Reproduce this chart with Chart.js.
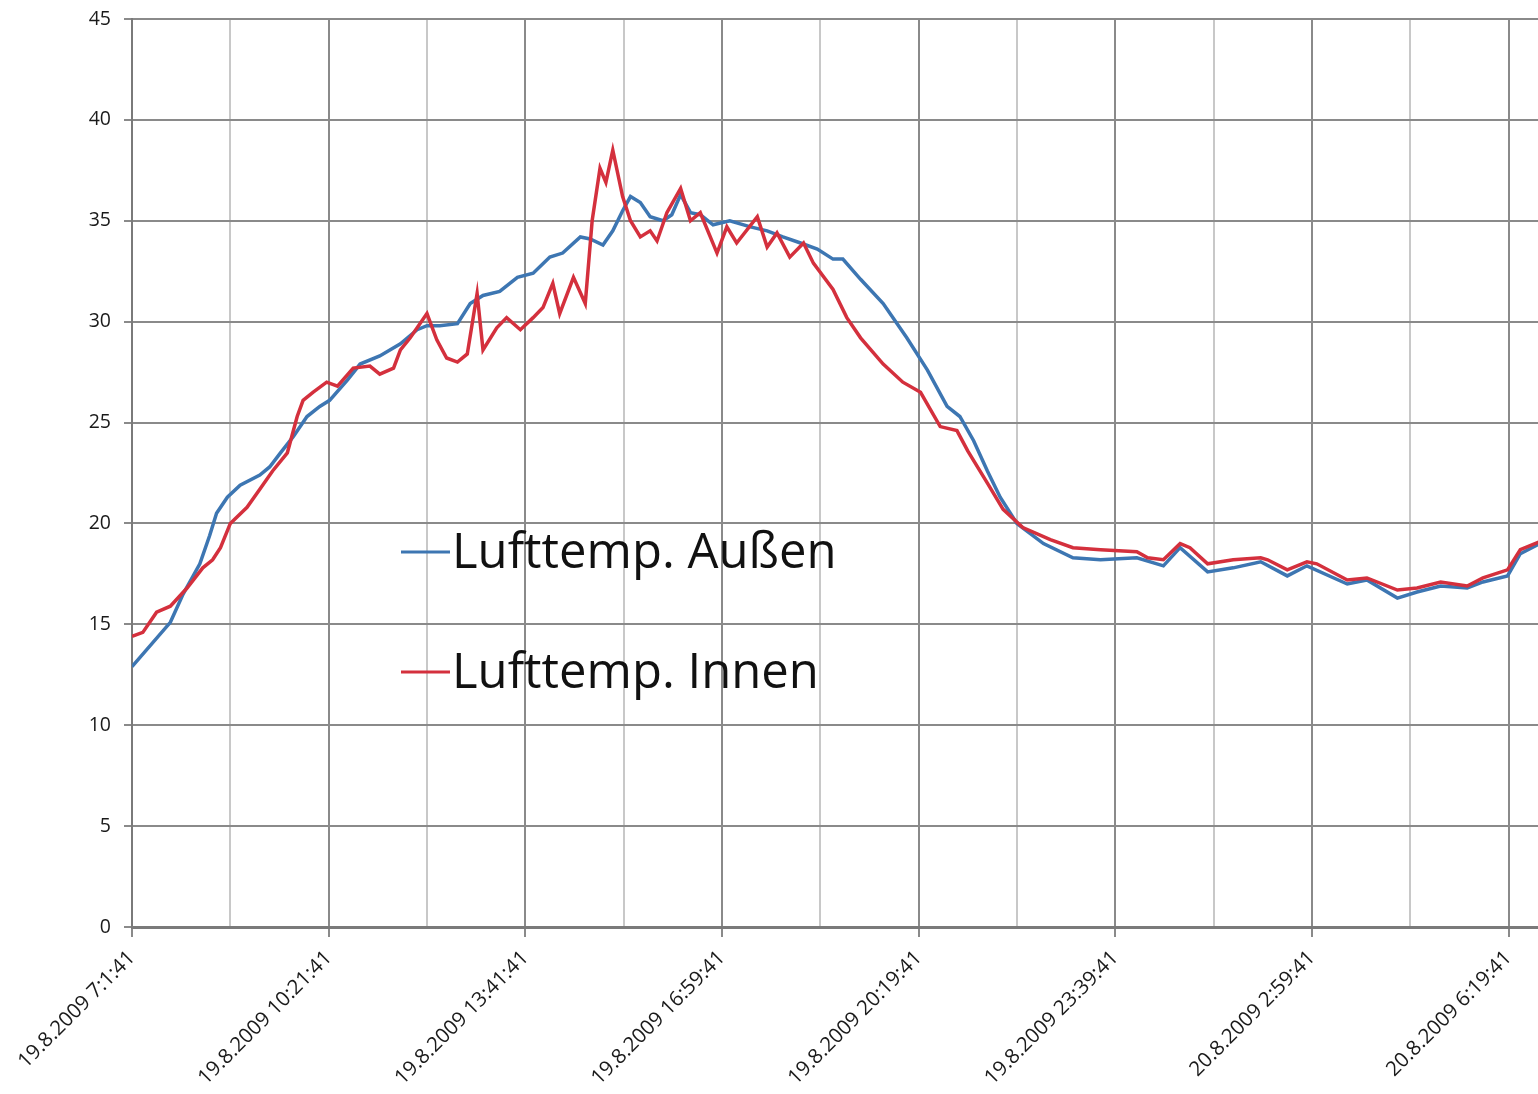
<!DOCTYPE html>
<html>
<head>
<meta charset="utf-8">
<title>Lufttemperatur</title>
<script src="https://cdn.jsdelivr.net/npm/chart.js@4"></script>
<style>
  html, body { margin: 0; padding: 0; background: #fff; }
  #chart { display: block; }
</style>
</head>
<body>
<canvas id="chart" width="1538" height="1094"></canvas>
<script>
// minutes after 19.8.2009 7:01:41
const outsideMinutes = [0, 39, 52, 69, 79, 86, 97, 110, 130, 140, 151, 164, 178, 191, 201, 219, 232, 252, 273, 290,
  300, 313, 331, 344, 357, 374, 392, 408, 425, 438, 456, 466, 479, 489, 499, 507, 517, 527, 540, 549,
  558, 568, 578, 591, 608, 629, 646, 662, 680, 697, 713, 723, 741, 764, 788, 809, 829, 842, 856, 870,
  883, 900, 927, 957, 985, 1022, 1049, 1066, 1094, 1120, 1148, 1175, 1195, 1236, 1256, 1287, 1307, 1331, 1358, 1374,
  1399, 1412, 1432];
const outsideTemp = [12.9, 15.1, 16.5, 18.0, 19.4, 20.5, 21.3, 21.9, 22.4, 22.8, 23.5, 24.3, 25.3, 25.8, 26.1, 27.1, 27.9, 28.3, 28.9, 29.6,
  29.8, 29.8, 29.9, 30.9, 31.3, 31.5, 32.2, 32.4, 33.2, 33.4, 34.2, 34.1, 33.8, 34.5, 35.5, 36.2, 35.9, 35.2, 35.0, 35.3,
  36.3, 35.4, 35.3, 34.8, 35.0, 34.7, 34.5, 34.2, 33.9, 33.6, 33.1, 33.1, 32.1, 30.9, 29.2, 27.6, 25.8, 25.3, 24.1, 22.6,
  21.3, 20.0, 19.0, 18.3, 18.2, 18.3, 17.9, 18.8, 17.6, 17.8, 18.1, 17.4, 17.9, 17.0, 17.2, 16.3, 16.6, 16.9, 16.8, 17.1,
  17.4, 18.5, 19.0];

const insideMinutes = [0, 11, 25, 39, 56, 72, 82, 90, 100, 117, 130, 143, 158, 168, 174, 184, 198, 209, 225, 242,
  252, 266, 273, 283, 300, 310, 320, 331, 341, 351, 357, 371, 381, 395, 408, 418, 428, 435, 449, 461,
  468, 476, 482, 489, 499, 507, 517, 527, 534, 544, 558, 568, 578, 595, 605, 615, 636, 646, 656, 669,
  683, 693, 713, 727, 741, 764, 784, 802, 822, 839, 850, 870, 886, 906, 934, 957, 985, 1022, 1033, 1049,
  1066, 1076, 1094, 1120, 1148, 1155, 1175, 1195, 1205, 1236, 1256, 1287, 1307, 1331, 1358, 1374, 1399, 1412, 1432];
const insideTemp = [14.4, 14.6, 15.6, 15.9, 16.8, 17.8, 18.2, 18.8, 20.0, 20.8, 21.7, 22.6, 23.5, 25.3, 26.1, 26.5, 27.0, 26.8, 27.7, 27.8,
  27.4, 27.7, 28.6, 29.2, 30.4, 29.1, 28.2, 28.0, 28.4, 31.4, 28.6, 29.7, 30.2, 29.6, 30.2, 30.7, 31.9, 30.4, 32.2, 30.9,
  35.0, 37.6, 36.9, 38.5, 36.2, 35.0, 34.2, 34.5, 34.0, 35.4, 36.6, 35.0, 35.4, 33.4, 34.7, 33.9, 35.2, 33.7, 34.4, 33.2,
  33.9, 32.9, 31.6, 30.2, 29.2, 27.9, 27.0, 26.5, 24.8, 24.6, 23.6, 22.0, 20.7, 19.8, 19.2, 18.8, 18.7, 18.6, 18.3, 18.2,
  19.0, 18.8, 18.0, 18.2, 18.3, 18.2, 17.7, 18.1, 18.0, 17.2, 17.3, 16.7, 16.8, 17.1, 16.9, 17.3, 17.7, 18.7, 19.1];

// one label every 200 minutes (every second grid line)
const tickLabels = ['19.8.2009 7:1:41', '19.8.2009 10:21:41', '19.8.2009 13:41:41', '19.8.2009 16:59:41',
  '19.8.2009 20:19:41', '19.8.2009 23:39:41', '20.8.2009 2:59:41', '20.8.2009 6:19:41'];

const seriesNames = ['Lufttemp. Außen', 'Lufttemp. Innen'];
const seriesColors = ['#3d76b2', '#d4303d'];

const toPoints = (xs, ys) => xs.map((x, i) => ({x: x, y: ys[i]}));
const isLabelled = (ctx) => ctx.index % 2 === 0;

// legend sits inside the plot, like the Excel original
const innerLegend = {
  id: 'innerLegend',
  afterDraw(chart) {
    const c = chart.ctx;
    const rows = [{y: 552, base: 568}, {y: 672, base: 688}];
    c.save();
    chart.data.datasets.forEach((ds, i) => {
      c.strokeStyle = ds.borderColor;
      c.lineWidth = 3;
      c.beginPath();
      c.moveTo(401, rows[i].y);
      c.lineTo(450, rows[i].y);
      c.stroke();
      c.fillStyle = '#111';
      c.font = '49px "Open Sans"';
      c.textBaseline = 'alphabetic';
      c.fillText(ds.label, 452, rows[i].base);
    });
    c.restore();
  }
};

Chart.defaults.font.family = '"Open Sans", sans-serif';
Chart.defaults.color = '#1a1a1a';

new Chart(document.getElementById('chart'), {
  type: 'line',
  data: {
    datasets: [{
      label: seriesNames[0],
      data: toPoints(outsideMinutes, outsideTemp),
      borderColor: seriesColors[0],
      borderWidth: 3.5,
      pointRadius: 0,
      tension: 0,
      order: 1
    }, {
      label: seriesNames[1],
      data: toPoints(insideMinutes, insideTemp),
      borderColor: seriesColors[1],
      borderWidth: 3.5,
      pointRadius: 0,
      tension: 0,
      order: 0
    }]
  },
  options: {
    responsive: false,
    animation: false,
    devicePixelRatio: 1,
    layout: { padding: { top: 19, right: 0, bottom: 0, left: 0 } },
    plugins: {
      legend: { display: false },
      tooltip: { enabled: false }
    },
    scales: {
      x: {
        type: 'linear',
        min: 0,
        max: 1430,
        afterFit: (scale) => { scale.height = 167; scale.paddingLeft = 0; scale.paddingRight = 0; },
        border: { color: '#7a7a7a', width: 3 },
        grid: {
          color: (ctx) => isLabelled(ctx) ? '#8a8a8a' : '#c8c8c8',
          lineWidth: 2,
          tickLength: 10,
          tickColor: (ctx) => isLabelled(ctx) ? '#8a8a8a' : 'rgba(0,0,0,0)'
        },
        ticks: {
          stepSize: 100,
          includeBounds: false,
          autoSkip: false,
          maxRotation: 45,
          minRotation: 45,
          padding: 9,
          font: { size: 20.5 },
          callback: (value, index) => index % 2 === 0 ? tickLabels[index / 2] : ''
        }
      },
      y: {
        min: 0,
        max: 45,
        afterFit: (scale) => { scale.width = 132; scale.paddingTop = 0; },
        border: { color: '#7a7a7a', width: 2 },
        grid: {
          color: '#8a8a8a',
          lineWidth: 2,
          tickLength: 8,
          tickColor: '#8a8a8a'
        },
        ticks: {
          stepSize: 5,
          padding: 13,
          font: { size: 19.5 }
        }
      }
    }
  },
  plugins: [innerLegend]
});
</script>
</body>
</html>
